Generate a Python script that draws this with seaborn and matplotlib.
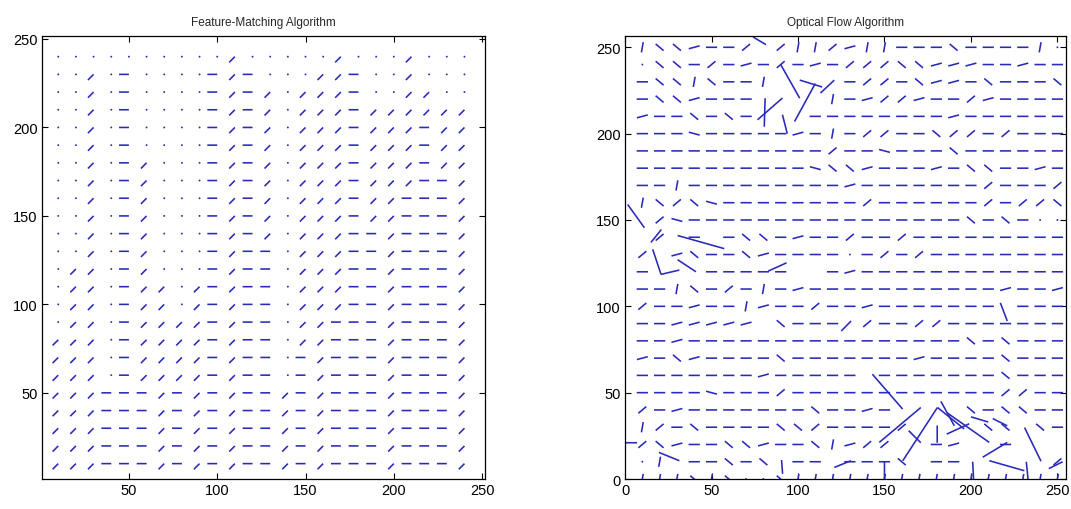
import numpy as np
import pandas as pd
import matplotlib
matplotlib.use("Agg")
import matplotlib.pyplot as plt
import seaborn as sns

# ---- Feature-Matching panel: grid of arrows, one character per grid point
# '.' = no motion (dot), '/' = small diagonal, '-' = horizontal dash
fm_cols = [10, 20, 30, 40, 50, 60, 70, 80, 90, 100, 110, 120,
           130, 140, 150, 160, 170, 180, 190, 200, 210, 220, 230, 240]
fm_rows = [240, 230, 220, 210, 200, 190, 180, 170, 160, 150, 140, 130,
           120, 110, 100, 90, 80, 70, 60, 50, 40, 30, 20, 10]
fm_field = [
    "........../...../.../...",
    "../.-....-/-...//-../...",
    "../.-....-/-/.///-..//..",
    "../.-....-/-/.///-//////",
    "../.-....-/-/.///-///-//",
    "../.-....-/-/.///-///-//",
    "../.-/...-/-/.///-///-//",
    "../.-/...-/-/.///-///--/",
    "../.-/...-/-/.///-//---/",
    "../.-/...-/-/.///-//---/",
    "../.-/...-/-/.///--/---/",
    "../.-/...-/--.///--/---/",
    ".//.-/...-/--.///--/---/",
    ".//.-//./-/--.///--/---/",
    ".//.-//./-/--.///--/---/",
    ".//.-////-/--.//---/---/",
    "///.-////-/--.//---/---/",
    "///.-////-/--.-/---/---/",
    "///.-////-/--.-/---/---/",
    "///---/-/-/--/-/---/---/",
    "///---/-/-/--/-/---/---/",
    "///---/-/-/--/-/---/---/",
    "///---/-/-/--/-/---/---/",
    "///---/-/-/--/-/---/---/",
]
fm_vec = {'.': (0.0, 0.0), '/': (-3.2, -3.2), '-': (-5.6, 0.0)}

# ---- Optical Flow panel
# '-' flat, '^' slightly up, 'v' slightly down, '/' rising, 'b' falling,
# '|' near vertical, '.' tiny, ' ' nothing
of_cols = [0, 10, 20, 30, 40, 50, 60, 70, 80, 90, 100, 110, 120,
           130, 140, 150, 160, 170, 180, 190, 200, 210, 220, 230, 240, 250]
of_rows = [250, 240, 230, 220, 210, 200, 190, 180, 170, 160, 150, 140, 130,
           120, 110, 100, 90, 80, 70, 60, 50, 40, 30, 20, 10, 0]
of_field = [
    " |bb^--/ /||/^||---b----|.",
    " .bb-/-^-/-^-///bb^^^--^--",
    " -bb|b--|    -//-b^^-b---b",
    " -bb^---    |-^//^--/^----",
    " ^--b-b-   --------^------",
    " ---v-----^-|-//--b//-/---",
    " -----------/--v---b------",
    " ----------vbb^---^-bb--^-",
    " --|---------^-------/---/",
    " |b/bv--------/------/-//b",
    "  /v----------------b-b-..",
    "  / - -bb-^--/--/---------",
    " / ^b--b^----.-/-/--------",
    " -   -----  -^------------",
    " --|b-/-|-^-----------^--^",
    " /--^--|^--/--^------- ---",
    " --^^^^^ b--- /--//-------",
    " --^----------------b-b---",
    " ^-b^----b-------^----b---",
    " -------^----- -------b---",
    " ----v---/------------//--",
    " /-^-------b--^-    b-bb--",
    " |/-b----bb/----/    bb b-",
    " /b^--bb^--b|^//  -^  -   ",
    " .| --b-b -- ---b --     /",
    " |||b|b..b||||||||||||||||",
]
of_sym = {'-': (0, 6.5), '^': (15, 6.5), 'v': (-15, 6.5), '/': (40, 6.0),
          'b': (-40, 6.0), '|': (80, 6.0), '.': (0, 0.0)}

# large outlier vectors (tail position and components)
of_long_x = [74, 90, 98, 101, 113, 80.5, 76.6, 91, 1.5, 30.4,
             15, 16, 20.8, 30.4, 82.8, 217, 125, 143, 147, 160.6,
             180.7, 182.6, 186.4, 186, 200, 212.6, 231, 206.8, 210.6, 201,
             150, 164, 180.5, 232, 245, 90.5, 19.6, 0, 121]
of_long_y = [256, 240, 207, 231, 223.5, 204, 208, 211, 159, 141,
             137, 133, 118.5, 127, 120.4, 102, 85.7, 60.7, 21.2, 10.6,
             41.4, 45, 38.2, 26, 36, 35, 29.8, 12.6, 10.6, 10,
             10, 28, 31, 10, 6, 11, 15.4, 21, 6.7]
of_long_u = [7.5, 11, 12, 13, 8, 0.5, 14.4, 2.8, 9.7, 27,
             6, 4.8, 10.6, 10.6, 10.6, 4, 5.7, 17.5, 24, 20,
             15.4, 7.8, 24.2, 13, 10, 8.4, 9.5, 14.2, 20.3, 0.5,
             0, 7, 0, 1, 8, 0.6, 11.8, 7, 9.6]
of_long_v = [-4.5, -19.5, 22, -4, 7.5, 16.5, 12.6, -11, -13.5, -7.6,
             7.5, -14.5, 2.5, -7, 4.8, -10.5, 5.8, -20.2, 20.2, 30.8,
             -12.4, -14.2, -17, 6, -3, -4.2, -19.5, 8.6, -5.8, -10,
             -10, -7, -10, -10, 4, -8, -4.8, 0, 3.9]

BLUE = '#2a2ab8'

# build tables
fm = []
for y, line in zip(fm_rows, fm_field):
    for x, ch in zip(fm_cols, line):
        u, v = fm_vec[ch]
        fm.append((x, y, u, v))
fm = pd.DataFrame(fm, columns=['x', 'y', 'u', 'v'])

of = []
for y, line in zip(of_rows, of_field):
    for x, ch in zip(of_cols, line):
        if ch == ' ':
            continue
        ang, ln = of_sym[ch]
        of.append((x, y, ln * np.cos(np.radians(ang)), ln * np.sin(np.radians(ang))))
of = pd.DataFrame(of, columns=['x', 'y', 'u', 'v'])
of_long = pd.DataFrame({'x': of_long_x, 'y': of_long_y, 'u': of_long_u, 'v': of_long_v})

sns.set_theme(style="ticks", rc={
    "xtick.direction": "in", "ytick.direction": "in",
    "xtick.top": True, "ytick.right": True,
    "xtick.major.size": 4, "ytick.major.size": 4,
    "axes.edgecolor": "black", "axes.linewidth": 0.9,
})
plt.rcParams['font.family'] = ['Liberation Sans', 'DejaVu Sans']


def quiv(ax, d, pivot):
    q = ax.quiver(d['x'], d['y'], d['u'], d['v'], angles='xy', scale_units='xy',
                  scale=1, pivot=pivot, units='dots', width=1.6, headwidth=0,
                  headlength=0, headaxislength=0, minlength=1.3, color=BLUE,
                  antialiased=True)
    q.set_snap(False)


fig = plt.figure(figsize=(10.71, 5.10), dpi=100)
ax1 = fig.add_axes([0.0389, 0.0588, 0.4139, 0.868])
ax2 = fig.add_axes([0.5836, 0.0588, 0.4118, 0.8692])

quiv(ax1, fm, 'tail')
ax1.set_xlim(0.6, 251.6)
ax1.set_ylim(1.3, 251.5)
ax1.set_xticks([50, 100, 150, 200, 250])
ax1.set_yticks([50, 100, 150, 200, 250])
ax1.set_title('Feature-Matching Algorithm', fontsize=8.5, pad=8)

quiv(ax2, of, 'middle')
quiv(ax2, of_long, 'tail')
ax2.set_xlim(0, 255)
ax2.set_ylim(0, 256.7)
ax2.set_xticks([0, 50, 100, 150, 200, 250])
ax2.set_yticks([0, 50, 100, 150, 200, 250])
ax2.set_title('Optical Flow Algorithm', fontsize=8.5, pad=8)

for ax in (ax1, ax2):
    ax.tick_params(labelsize=10.5, colors='black', width=0.8, pad=3)
    for s in ax.spines.values():
        s.set_color('black')

fig.savefig('out.png', dpi=100, facecolor='white')
